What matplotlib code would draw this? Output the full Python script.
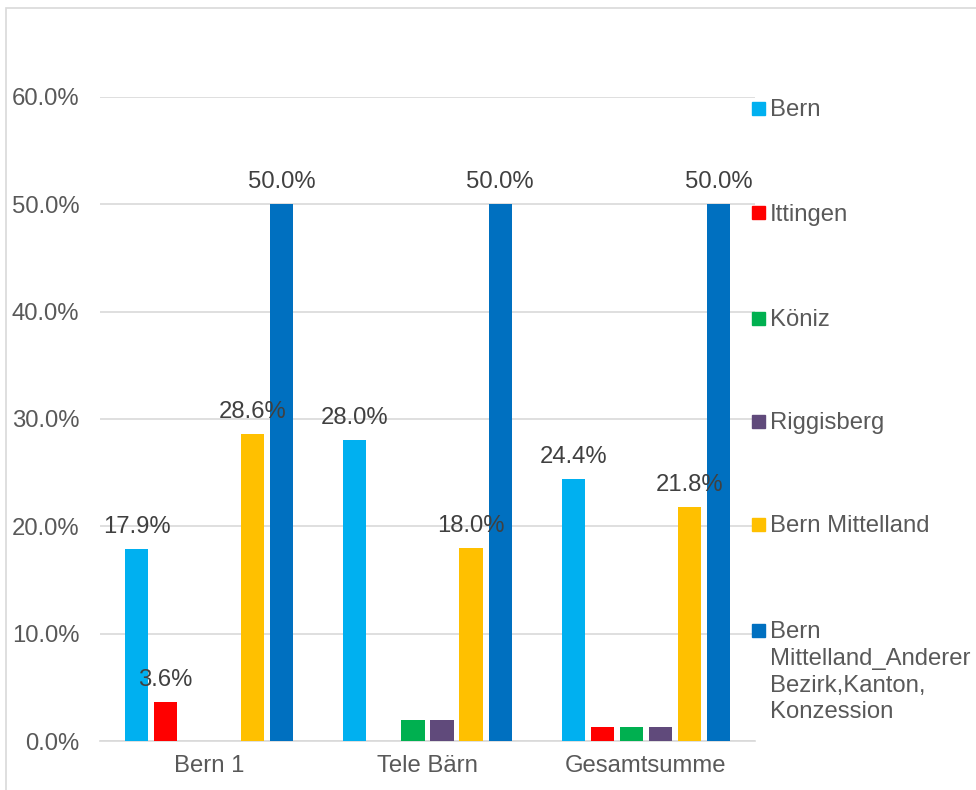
import matplotlib
matplotlib.use("Agg")
import matplotlib.pyplot as plt
from matplotlib.patches import Rectangle
import numpy as np

plt.rcParams['font.family'] = ['Liberation Sans', 'DejaVu Sans']

categories = ["Bern 1", "Tele Bärn", "Gesamtsumme"]
series = ["Bern", "Ittingen", "Köniz", "Riggisberg", "Bern Mittelland",
          "Bern\nMittelland_Anderer\nBezirk,Kanton,\nKonzession"]
values = [
    [0.179, 0.280, 0.244],
    [0.036, 0.000, 0.013],
    [0.000, 0.020, 0.013],
    [0.000, 0.020, 0.013],
    [0.286, 0.180, 0.218],
    [0.500, 0.500, 0.500],
]
show_labels = [
    [True, True, True],
    [True, False, False],
    [False, False, False],
    [False, False, False],
    [True, True, True],
    [True, True, True],
]
colors = ["#00B0F0", "#FF0000", "#00B050", "#604A7B", "#FFC000", "#0070C0"]
yticks = [0.0, 0.1, 0.2, 0.3, 0.4, 0.5, 0.6]

W, H = 976, 790
fig = plt.figure(figsize=(W / 100, H / 100), dpi=100)
ax = fig.add_axes([100 / W, 1 - 741 / H, 655 / W, (741 - 97) / H])

FS = 17.2
x = np.arange(len(categories))
slot = 0.133
bw = 0.106
n = len(series)
for i, (name, vals, col) in enumerate(zip(series, values, colors)):
    pos = x + (i - (n - 1) / 2) * slot
    bars = ax.bar(pos, vals, width=bw, color=col, zorder=3)
    for b, v, s in zip(bars, vals, show_labels[i]):
        if s:
            ax.annotate(f"{v*100:.1f}%", (b.get_x() + b.get_width() / 2, v),
                        xytext=(0, 8), textcoords="offset points",
                        ha="center", va="bottom", fontsize=FS, color="#404040", zorder=4)

ax.set_xlim(-0.5, len(categories) - 0.5)
ax.set_ylim(0, 0.6)
ax.set_yticks(yticks)
ax.set_yticklabels([f"{t*100:.1f}%" for t in yticks])
ax.set_xticks(x)
ax.set_xticklabels(categories)
ax.tick_params(axis="both", length=0, labelsize=FS, labelcolor="#595959")
ax.tick_params(axis="y", pad=15)
ax.tick_params(axis="x", pad=10)
ax.grid(axis="y", color="#D9D9D9", linewidth=1.2, zorder=0)
for s in ["top", "right", "left"]:
    ax.spines[s].set_visible(False)
ax.spines["bottom"].set_color("#D9D9D9")
ax.spines["bottom"].set_linewidth(1.2)

# legend (manual, to put marker at first line of multi-line entry)
leg_y = [108, 213, 318, 421, 524, 630]
for name, col, yy in zip(series, colors, leg_y):
    fig.patches.append(Rectangle((752 / W, 1 - (yy + 6.5) / H), 13 / W, 13 / H,
                                 transform=fig.transFigure, color=col))
    fig.text(770 / W, 1 - (yy - 9) / H, name, fontsize=FS, color="#595959",
             ha="left", va="top", linespacing=1.28)

# chart border
fig.patches.append(Rectangle((6 / W, -0.1), 1.2, 1.1 - 8 / H, transform=fig.transFigure,
                             fill=False, edgecolor="#D9D9D9", linewidth=1.2))

fig.savefig("out.png", dpi=100)
